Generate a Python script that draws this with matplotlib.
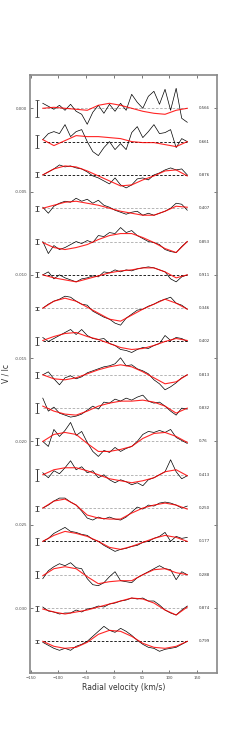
import numpy as np
import matplotlib
matplotlib.use('Agg')
import matplotlib.pyplot as plt
from matplotlib.ticker import FormatStrFormatter

# velocity grids (km/s)
vel_obs = [-128, -118, -108, -98, -88, -78, -68, -58, -48, -38, -28, -18, -8, 2,
           12, 22, 32, 42, 52, 62, 72, 82, 92, 102, 112, 122, 132]
vel_mod = [-128, -108, -88, -68, -48, -28, -8, 12, 32, 52, 72, 92, 112, 132]

# Stokes V / Ic residuals, units of 1e-5, top profile first
obs1 = [30, 12, -6, 18, -12, 24, -18, -36, -96, -24, 18, -30, 24, -18, 30, -12, 84, 36, 0, 72, 102, 24, 114, -12, 120, -60, -84]
obs2 = [12, 48, 60, 48, 102, 30, 60, 72, 0, -60, -84, -36, 0, -48, -12, -48, 54, 90, 24, 60, 102, 48, 54, 72, -36, 18, 0]
obs3 = [0, 18, 36, 60, 48, 54, 42, 36, 18, -6, -18, -36, -54, -18, -60, -78, -60, -24, -18, -30, 0, 12, 30, 42, 30, 36, 0]
obs4 = [6, -30, 12, 30, 42, 36, 60, 42, 54, 30, 48, 18, 6, -12, -24, -36, -24, -18, -42, -30, -42, -30, -18, 0, 30, 24, -12]
obs5 = [0, -72, -24, -48, -36, -18, 0, -12, 6, -6, 36, 30, 54, 48, 84, 54, 66, 36, 18, 0, -6, -18, -48, -60, -66, -30, 0]
obs6 = [0, 18, -24, 0, -18, -30, -42, -24, -18, -6, -12, 18, 12, 30, 18, 30, 24, 36, 42, 48, 42, 30, 18, -24, -42, -12, 0]
obs7 = [0, 24, 42, 54, 72, 66, 42, 24, 18, -18, -36, -54, -66, -90, -102, -60, -36, -12, -6, 12, 24, 42, 54, 66, 30, 18, -6]
obs8 = [24, 0, 18, 36, 54, 72, 42, 72, 36, 18, 12, 18, -12, -24, -48, -54, -66, -48, -36, -42, -24, -12, 36, 6, 24, 18, 0]
obs9 = [0, 18, -24, -60, -18, -6, -24, -12, 12, 24, 36, 48, 54, 66, 102, 54, 60, 36, 24, 6, -30, -54, -90, -72, -48, -18, 0]
obs10 = [60, -18, 6, -30, -42, -54, -48, -36, -12, 12, -6, 36, 30, 54, 42, 60, 48, 66, 78, 42, 30, 36, 12, -18, -42, 0, -6]
obs11 = [0, -30, 72, 30, 66, 114, 36, 60, -6, -60, -90, -54, -66, -36, -60, -42, -30, 0, 42, 60, 54, 66, 54, 72, 24, 6, -12]
obs12 = [12, -18, 24, 6, 42, 84, 30, 48, 12, 24, -18, 0, -30, -48, -30, -42, -60, -48, -66, -30, -18, 0, 18, 90, 18, -24, -6]
obs13 = [0, 18, 42, 60, 60, 36, 18, -18, -60, -72, -54, -66, -54, -66, -72, -54, -24, 6, -6, 18, 12, 30, 36, 30, 18, 0, 12]
obs14 = [0, 18, 48, 66, 84, 60, 54, 42, 36, 12, 0, -24, -42, -60, -48, -42, -30, -24, -6, 0, 18, 30, 54, 0, 30, 18, 24]
obs15 = [-24, 24, 48, 66, 54, 72, 42, 36, -24, -60, -66, -48, -12, 18, -36, -42, -48, -18, 0, 18, 36, 54, 36, 30, -30, 18, 0]
obs16 = [6, -18, -24, -36, -30, -30, -12, -24, -6, 0, 12, 6, 24, 30, 42, 48, 60, 54, 60, 42, 42, 18, -12, -30, -42, -12, 12]
obs17 = [-6, -24, -42, -54, -42, -54, -30, -18, 0, 30, 60, 90, 66, 54, 78, 60, 36, 6, -18, -36, -42, -60, -48, -42, -36, -18, 0]

mod1 = [0, 6, 0, -6, -12, 18, 30, 18, 0, -18, -30, -36, -12, 0]
mod2 = [12, -24, 6, 36, 30, 30, 24, 18, 0, -6, -6, -18, -30, 0]
mod3 = [0, 36, 54, 48, 24, -6, -36, -66, -60, -30, -6, 24, 30, -6]
mod4 = [0, 18, 36, 42, 30, 18, 0, -18, -30, -42, -42, -18, 12, 6]
mod5 = [-6, -36, -48, -36, -18, 12, 36, 48, 48, 24, -6, -42, -66, 0]
mod6 = [0, -18, -30, -42, -24, -6, 12, 24, 30, 42, 42, 18, -18, 0]
mod7 = [0, 42, 60, 42, 6, -30, -66, -78, -42, -6, 24, 54, 30, -6]
mod8 = [6, 30, 48, 54, 30, 12, -12, -36, -48, -42, -24, 0, 18, 6]
mod9 = [0, -24, -30, -18, 6, 30, 48, 60, 48, 18, -18, -54, -42, 0]
mod10 = [12, -18, -36, -42, -18, 12, 30, 42, 42, 48, 36, 12, -30, 0]
mod11 = [0, 42, 54, 42, -12, -60, -60, -48, -30, 18, 48, 54, 30, -6]
mod12 = [0, 30, 42, 42, 24, 0, -24, -36, -48, -36, -18, 18, 30, -6]
mod13 = [0, 42, 54, 18, -42, -60, -66, -66, -30, 0, 18, 30, 18, -6]
mod14 = [0, 36, 60, 48, 30, 0, -36, -48, -30, -6, 18, 36, 24, 0]
mod15 = [-6, 36, 48, 36, -12, -54, -42, -36, -36, 0, 30, 36, 12, 0]
mod16 = [-6, -24, -36, -24, -12, 6, 24, 42, 60, 54, 30, -12, -42, 6]
mod17 = [0, -30, -42, -36, -6, 42, 66, 60, 30, -12, -36, -42, -30, 0]

errors = [51, 39, 15, 15, 15, 15, 10, 24, 18, 30, 20, 36, 15, 20, 20, 15, 10]
phases = ['0.566', '0.661', '0.876', '0.407', '0.853', '0.911', '0.346', '0.402', '0.813',
          '0.832', '0.76', '0.413', '0.250', '0.177', '0.288', '0.874', '0.799']
dark_dash = [False, True, True, False, False, True, False, True, False,
             False, False, False, False, True, False, False, True]

obs_all = [obs1, obs2, obs3, obs4, obs5, obs6, obs7, obs8, obs9,
           obs10, obs11, obs12, obs13, obs14, obs15, obs16, obs17]
mod_all = [mod1, mod2, mod3, mod4, mod5, mod6, mod7, mod8, mod9,
           mod10, mod11, mod12, mod13, mod14, mod15, mod16, mod17]

step = 0.002
scale = 1e-5

fig = plt.figure(figsize=(2.4, 7.49), dpi=100)
ax = fig.add_axes([0.125, 0.1015, 0.778, 0.7984])

for i in range(len(obs_all)):
    off = -step * i
    ax.plot(vel_obs, np.array(obs_all[i]) * scale + off, color='black', lw=0.5, zorder=3)
    ax.plot(vel_mod, np.array(mod_all[i]) * scale + off, color='red', lw=0.8, alpha=0.85, zorder=4)
    ax.plot([vel_obs[0], vel_obs[-1]], [off, off], ls='--', lw=0.6,
            color='black' if dark_dash[i] else '#aaaaaa', dashes=(3, 2), zorder=2)
    ax.errorbar([-139], [off], yerr=[errors[i] * scale], fmt='none', ecolor='#333333',
                elinewidth=0.7, capsize=1.2, capthick=0.5)
    ax.text(152, off, phases[i], fontsize=2.8, va='center', ha='left', color='#333333')

ax.set_xlim(-151, 185)
ax.set_ylim(-0.0339, 0.002)
ax.set_xticks([-150, -100, -50, 0, 50, 100, 150])
ax.set_yticks([0.0, -0.005, -0.010, -0.015, -0.020, -0.025, -0.030])
ax.yaxis.set_major_formatter(FormatStrFormatter('%.3f'))
ax.tick_params(direction='in', length=2, width=0.5, labelsize=2.8, colors='#444444',
               top=True, right=True, pad=2)
for s in ax.spines.values():
    s.set_color('#888888')
    s.set_linewidth(1.2)

ax.set_xlabel('Radial velocity (km/s)', fontsize=5.5, color='#333333', labelpad=2)
ax.set_ylabel('V / Ic', fontsize=5.5, color='#333333', labelpad=3)

fig.savefig('out.png', dpi=100)
